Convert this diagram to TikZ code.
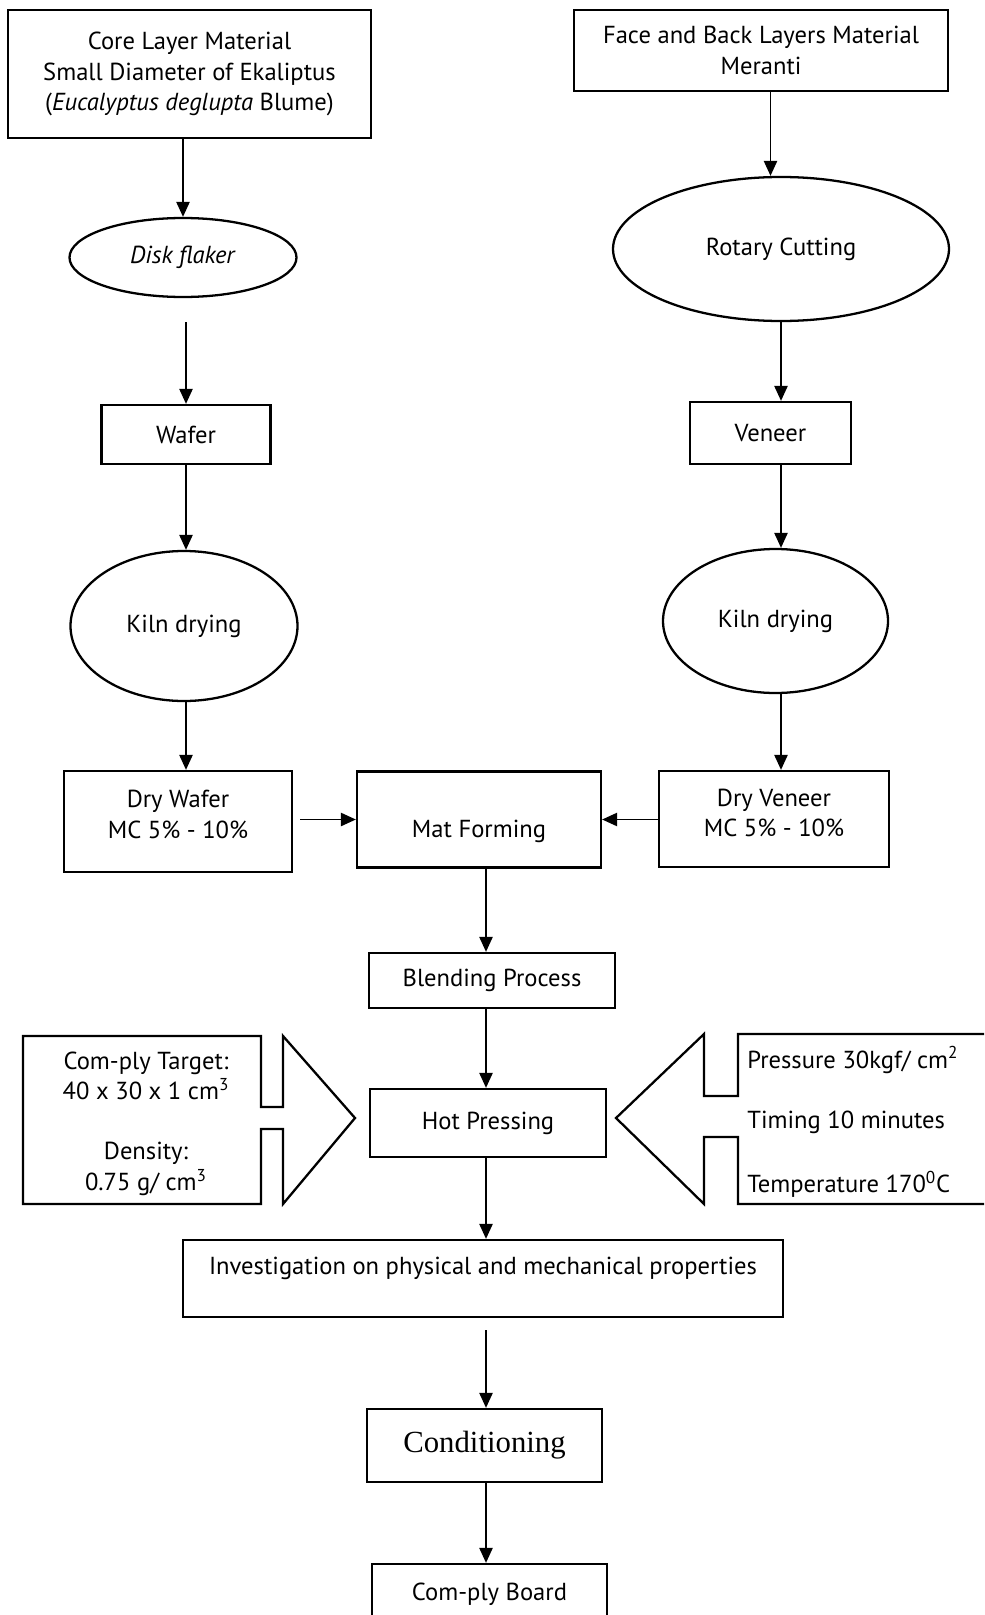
\documentclass[tikz,border=0pt]{standalone}
\usepackage{fontspec}
\setmainfont{PT Sans}
\newfontfamily\condfont{Liberation Serif}
\usepackage{tikz}
\usetikzlibrary{arrows.meta,shapes}
\newcommand\boxfont{\fontsize{14}{17.5}\selectfont}
\tikzstyle{box}=[rectangle,draw=black,line width=1.3pt,align=center,inner sep=0pt,font=\boxfont]
\tikzstyle{oval}=[ellipse,draw=black,line width=1.3pt,align=center,inner sep=0pt,font=\boxfont]
\tikzstyle{txt}=[align=center,inner sep=0pt,font=\boxfont]
\tikzstyle{edge} = [draw,line width=1pt,-{Triangle[length=8.5pt,width=7.5pt]}]
\tikzstyle{callout} = [draw,line width=1.3pt,line join=miter]

\begin{document}
\begin{tikzpicture}[x=0.02cm,y=-0.02cm]

 \useasboundingbox (0,0) rectangle (984,1615);
 \clip (0,0) rectangle (984,1615);

 %boxes
  \def\u{0.02cm};
  \foreach \x/\y/\w/\h/\name/\label in {
     189.5/74/363/128/core/{Core Layer Material\\Small Diameter of Ekaliptus\\(\textit{Eucalyptus deglupta} Blume)},
     761/50.5/374/81/face/{Face and Back Layers Material\\Meranti},
     186/434.5/169/59/wafer/Wafer,
     770.5/433/161/62/veneer/Veneer,
     492/980.5/246/55/blend/Blending Process,
     488/1123/236/68/hot/Hot Pressing,
     489.5/1594/235/60/board/Com-ply Board}
          \node[box, minimum width=\w*\u, minimum height=\h*\u] (\name) at (\x,\y) {\label};

  %text set off centre
  \node[box, minimum width=228*\u, minimum height=101*\u, text height=27.5pt, text depth=8.5pt] (drywafer) at (178,821.5) {Dry Wafer\\MC 5\% - 10\%};
  \node[box, minimum width=230*\u, minimum height=96*\u, text height=27.5pt, text depth=7.3pt] (dryveneer) at (774,819) {Dry Veneer\\MC 5\% - 10\%};
  \node[box, minimum width=244*\u, minimum height=96*\u, text height=24pt, text depth=3pt] (mat) at (479,819.5) {Mat Forming};
  \node[box, minimum width=600*\u, minimum height=77*\u, text height=10pt, text depth=14.4pt] (invest) at (483,1278.5) {Investigation on physical and mechanical properties};
  \node[box, minimum width=235*\u, minimum height=73*\u, font=\condfont\fontsize{17.5}{20}\selectfont] (cond) at (484.5,1445.5) {Conditioning};

 %ovals
  \foreach \x/\y/\w/\h/\name/\label in {
     183/257.5/227/79/disk/\textit{Disk flaker},
     781/249/336/144/rotary/Rotary Cutting,
     184/626/227/150/kilnl/Kiln drying,
     775.5/621/225/144/kilnr/Kiln drying}
          \node[oval, minimum width=\w*\u, minimum height=\h*\u] (\name) at (\x,\y) {\label};

 %side arrows
  \draw[callout] (23,1036) -- (261,1036) -- (261,1107) -- (283,1107) -- (283,1036) -- (355,1118)
        -- (283,1204) -- (283,1129) -- (261,1129) -- (261,1204) -- (23,1204) -- cycle;
  \draw[callout] (995,1034) -- (738,1034) -- (738,1096) -- (704,1096) -- (704,1034) -- (616,1118)
        -- (704,1204) -- (704,1137) -- (738,1137) -- (738,1204) -- (995,1204);

  \node[txt] (target) at (146,1076) {Com-ply Target:\\40 x 30 x 1 cm\textsuperscript{3}};
  \node[txt] (density) at (146,1169) {Density:\\0.75 g/ cm\textsuperscript{3}};

  \foreach \y/\name/\label in {1060/press/{Pressure 30kgf/ cm\textsuperscript{2}}, 1122/timing/Timing 10 minutes, 1184/temp/{Temperature 170\textsuperscript{0}C}}
          \node[txt, anchor=west] (\name) at (747,\y) {\label};

 %left column
  \path[edge] (core.south -| disk) -- (disk.north);
  \path[edge, shorten <=0.48cm] (disk.south -| wafer) -- (wafer.north);
  \path[edge] (wafer.south) -- (kilnl.north -| wafer);
  \path[edge] (kilnl.south -| wafer) -- (drywafer.north -| wafer);

 %right column
  \path[edge] (face.south -| veneer) -- (rotary.north -| veneer);
  \path[edge] (rotary.south) -- (veneer.north -| rotary);
  \path[edge] (veneer.south -| rotary) -- (kilnr.north -| rotary);
  \path[edge] (kilnr.south -| rotary) -- (dryveneer.north -| rotary);

  \path[edge, shorten <=0.14cm] (drywafer.east |- mat) -- (mat.west);
  \path[edge] (dryveneer.west |- mat) -- (mat.east);

 %middle
  \coordinate (spine) at (486,0);
  \foreach \source/ \dest in {mat/blend, blend/hot, hot/invest, cond/board}
         \path[edge] (\source.south -| spine) -- (\dest.north -| spine);
  \path[edge, shorten <=0.24cm] (invest.south -| spine) -- (cond.north -| spine);

\end{tikzpicture}
\end{document}
